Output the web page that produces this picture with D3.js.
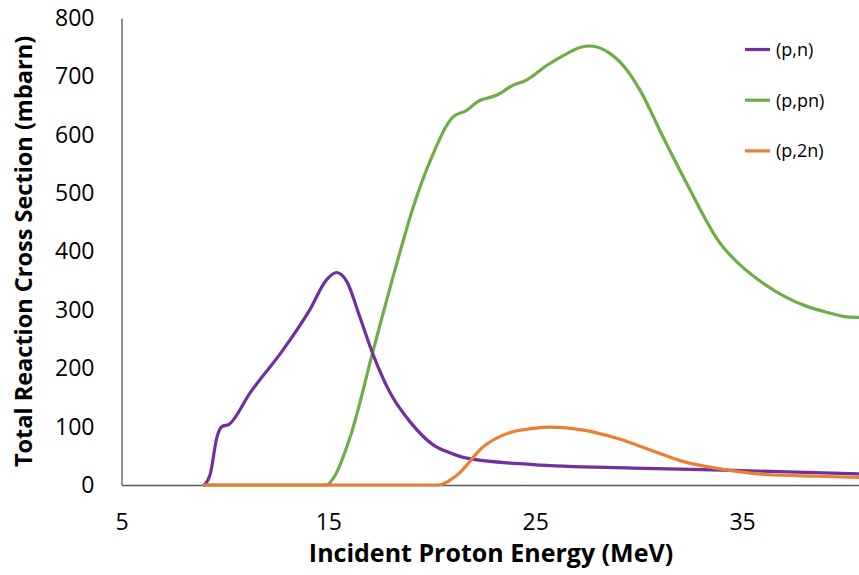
<!DOCTYPE html>
<html>
<head>
<meta charset="utf-8">
<script src="https://cdn.jsdelivr.net/npm/d3@7"></script>
<style>
  html, body { margin: 0; padding: 0; background: #fff; }
  svg { display: block; font-family: "Open Sans", "Liberation Sans", sans-serif; }
</style>
</head>
<body>
<svg id="chart" width="859" height="575"></svg>
<script>
// Incident proton energy (MeV) vs. cross section (mbarn) for each reaction channel
const pnData = [
  [9.0, 0], [9.3, 20], [9.6, 80], [9.85, 100], [10.2, 104], [11.2, 157], [12.8, 231],
  [14.1, 300], [14.9, 351], [15.4, 364], [15.9, 348], [16.5, 290], [17.2, 220],
  [18.0, 157], [19.0, 106], [20.1, 68], [20.9, 55], [21.7, 46], [24.9, 35],
  [29.7, 29], [34.6, 25], [40.65, 19]
];
const ppnData = [
  [9.0, 0], [14.9, 0], [15.3, 15], [16.06, 83], [17.17, 231], [18.24, 371], [19.1, 476],
  [19.93, 556], [21.04, 631], [21.7, 642], [22.18, 656], [23.15, 668], [23.94, 685],
  [24.6, 694], [25.57, 719], [26.53, 739], [27.2, 750], [27.66, 752], [28.62, 739],
  [29.43, 711], [30.07, 676], [31.18, 596], [32.33, 516], [33.94, 414], [34.9, 377],
  [36.0, 346], [37.16, 321], [38.13, 306], [39.09, 296], [40.06, 288], [40.65, 287]
];
const p2nData = [
  [9.0, 0], [20.3, 0], [21.22, 17], [22.5, 66], [23.63, 88], [24.92, 97], [25.72, 99],
  [27.33, 94], [28.95, 80], [30.56, 60], [32.17, 40], [33.78, 28.5], [36.19, 18],
  [38.61, 15], [40.65, 13]
];
const seriesNames = ["(p,n)", "(p,pn)", "(p,2n)"];
const seriesColors = ["#7030a0", "#70ad47", "#ed7d31"];
const xTicks = [5, 15, 25, 35];
const yTicks = [0, 100, 200, 300, 400, 500, 600, 700, 800];

const svg = d3.select("#chart");
const plotLeft = 121.5, plotRight = 859, plotTop = 18, plotBottom = 485;

const x = d3.scaleLinear().domain([5, 40.65]).range([plotLeft, plotRight]);
const y = d3.scaleLinear().domain([0, 800]).range([plotBottom, plotTop]);

// Axes: plain lines, no tick marks
const yAxis = svg.append("g").attr("transform", `translate(${plotLeft},0)`)
  .call(d3.axisLeft(y).tickValues(yTicks).tickSize(0).tickPadding(27));
yAxis.select(".domain").attr("stroke", "#595959").attr("stroke-width", 1.3);
yAxis.selectAll("text").attr("font-size", 23).attr("fill", "#000")
  .attr("font-family", "'Open Sans', sans-serif");

const xAxis = svg.append("g").attr("transform", `translate(0,${plotBottom})`)
  .call(d3.axisBottom(x).tickValues(xTicks).tickSize(0).tickPadding(29));
xAxis.select(".domain").attr("stroke", "#595959").attr("stroke-width", 1.3);
xAxis.selectAll("text").attr("font-size", 23).attr("fill", "#000")
  .attr("font-family", "'Open Sans', sans-serif");

// Axis titles
svg.append("text")
  .attr("transform", `translate(32,${(plotTop + plotBottom) / 2}) rotate(-90)`)
  .attr("text-anchor", "middle")
  .attr("font-size", 23.5).attr("font-weight", "bold")
  .text("Total Reaction Cross Section (mbarn)");
svg.append("text")
  .attr("x", 491).attr("y", 562)
  .attr("text-anchor", "middle")
  .attr("font-size", 25).attr("font-weight", "bold")
  .text("Incident Proton Energy (MeV)");

// Curves
const line = d3.line()
  .x(d => x(d[0])).y(d => y(d[1]))
  .curve(d3.curveMonotoneX);

const allSeries = [pnData, ppnData, p2nData];
// draw order: green, purple, orange so the orange baseline sits on top
[1, 0, 2].forEach(i => {
  svg.append("path")
    .datum(allSeries[i])
    .attr("fill", "none")
    .attr("stroke", seriesColors[i])
    .attr("stroke-width", 3.2)
    .attr("stroke-linejoin", "round")
    .attr("stroke-linecap", "round")
    .attr("d", line);
});

// Legend
const legend = svg.append("g");
seriesNames.forEach((name, i) => {
  const ly = 49.5 + i * 50.7;
  legend.append("line")
    .attr("x1", 745).attr("x2", 770).attr("y1", ly).attr("y2", ly)
    .attr("stroke", seriesColors[i]).attr("stroke-width", 3.2);
  legend.append("text")
    .attr("x", 776).attr("y", ly + 6.5)
    .attr("font-size", 18).attr("fill", "#000")
    .text(name);
});
</script>
</body>
</html>
